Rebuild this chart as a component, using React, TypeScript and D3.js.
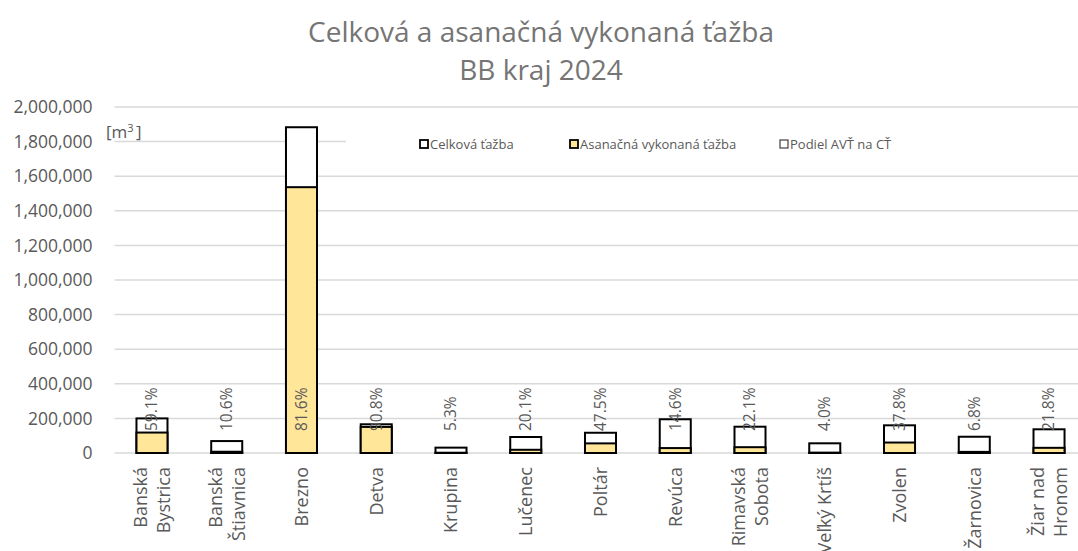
import React from 'react';
import { select, scaleBand, scaleLinear, axisLeft, format } from 'd3';

const categories = [
  'Banská Bystrica',
  'Banská Štiavnica',
  'Brezno',
  'Detva',
  'Krupina',
  'Lučenec',
  'Poltár',
  'Revúca',
  'Rimavská Sobota',
  'Veľký Krtíš',
  'Zvolen',
  'Žarnovica',
  'Žiar nad Hronom',
];
// label lines as Excel wraps them
const categoryLines = [
  ['Banská', 'Bystrica'],
  ['Banská', 'Štiavnica'],
  ['Brezno'],
  ['Detva'],
  ['Krupina'],
  ['Lučenec'],
  ['Poltár'],
  ['Revúca'],
  ['Rimavská', 'Sobota'],
  ['Veľký Krtíš'],
  ['Zvolen'],
  ['Žarnovica'],
  ['Žiar nad', 'Hronom'],
];
const celkovaTazba = [200000, 69000, 1883000, 166000, 31000, 92500, 117000, 195000, 152000, 56000, 160000, 94000, 137000];
const asanacnaTazba = [118200, 7300, 1536500, 150700, 1600, 18600, 55600, 28500, 33600, 2200, 60500, 6400, 29900];
const podielLabels = ['59.1%', '10.6%', '81.6%', '90.8%', '5.3%', '20.1%', '47.5%', '14.6%', '22.1%', '4.0%', '37.8%', '6.8%', '21.8%'];
const yTicks = [0, 200000, 400000, 600000, 800000, 1000000, 1200000, 1400000, 1600000, 1800000, 2000000];
const legendItems = ['Celková ťažba', 'Asanačná vykonaná ťažba', 'Podiel AVŤ na CŤ'];

const W = 1078;
const H = 551;
const FONT = '"Open Sans", sans-serif';
const YELLOW = '#FFE699';

function App() {
  const svgRef = React.useRef<SVGSVGElement>(null);

  React.useEffect(() => {
    const svg = select(svgRef.current).attr('width', W).attr('height', H);
    svg.selectAll('*').remove();

    const left = 114.6;
    const right = 1086.4; // plot runs a bit past the picture edge

    const xScale = scaleBand()
      .domain(categories)
      .range([left, right])
      .paddingInner(0.585)
      .paddingOuter(0.2925);

    const yScale = scaleLinear().domain([0, 2000000]).range([453, 107]);

    // title
    svg
      .append('text')
      .attr('x', 541)
      .attr('y', 42)
      .attr('text-anchor', 'middle')
      .style('font-size', '28px')
      .style('fill', '#757575')
      .text('Celková a asanačná vykonaná ťažba');
    svg
      .append('text')
      .attr('x', 541)
      .attr('y', 80)
      .attr('text-anchor', 'middle')
      .style('font-size', '28px')
      .style('fill', '#757575')
      .text('BB kraj 2024');

    // gridlines
    svg
      .append('g')
      .selectAll('line')
      .data(yTicks)
      .join('line')
      .attr('x1', left)
      .attr('x2', W)
      .attr('y1', (d) => yScale(d))
      .attr('y2', (d) => yScale(d))
      .attr('stroke', '#d9d9d9')
      .attr('stroke-width', 1.5);

    // y axis labels
    const yAxis = axisLeft(yScale).tickValues(yTicks).tickFormat(format(',')).tickSize(0).tickPadding(22);
    const yg = svg.append('g').attr('transform', `translate(${left},0)`).call(yAxis);
    yg.select('.domain').remove();
    yg.selectAll('text').style('font-size', '17.5px').style('font-family', FONT).style('fill', '#595959');

    // unit
    svg
      .append('text')
      .attr('x', 106)
      .attr('y', 138)
      .style('font-size', '17px')
      .style('fill', '#595959')
      .text('[m')
      .append('tspan')
      .attr('dy', -6)
      .style('font-size', '11px')
      .text('3');
    svg
      .append('text')
      .attr('x', 136)
      .attr('y', 138)
      .style('font-size', '17px')
      .style('fill', '#595959')
      .text(']');

    // legend box hides part of the 1,800,000 gridline
    svg.append('rect').attr('x', 346).attr('y', 126).attr('width', W - 346).attr('height', 34).attr('fill', '#fff');

    const legendX = [420, 570, 780];
    const legend = svg
      .append('g')
      .selectAll('g')
      .data(legendItems)
      .join('g')
      .attr('transform', (_, i) => `translate(${legendX[i]},144)`);
    legend
      .append('rect')
      .attr('x', 0)
      .attr('y', -4)
      .attr('width', 8)
      .attr('height', 8)
      .attr('fill', (_, i) => (i === 1 ? YELLOW : '#fff'))
      .attr('stroke', (_, i) => (i === 2 ? '#404040' : '#000'))
      .attr('stroke-width', (_, i) => (i === 2 ? 1.2 : 1.8));
    legend
      .append('text')
      .attr('x', 10)
      .attr('dy', '0.35em')
      .style('font-size', '13px')
      .style('fill', '#595959')
      .text((d) => d);

    // total bars
    svg
      .append('g')
      .selectAll('rect')
      .data(celkovaTazba)
      .join('rect')
      .attr('x', (_, i) => xScale(categories[i]))
      .attr('width', xScale.bandwidth())
      .attr('y', (d) => yScale(d))
      .attr('height', (d) => yScale(0) - yScale(d))
      .attr('fill', '#fff')
      .attr('stroke', '#000')
      .attr('stroke-width', 2);

    // sanitary felling bars, full overlap
    svg
      .append('g')
      .selectAll('rect')
      .data(asanacnaTazba)
      .join('rect')
      .attr('x', (_, i) => xScale(categories[i]))
      .attr('width', xScale.bandwidth())
      .attr('y', (d) => yScale(d))
      .attr('height', (d) => yScale(0) - yScale(d))
      .attr('fill', YELLOW)
      .attr('stroke', '#000')
      .attr('stroke-width', 2);

    // share labels
    svg
      .append('g')
      .selectAll('text')
      .data(podielLabels)
      .join('text')
      .attr('transform', (_, i) => `translate(${xScale(categories[i]) + xScale.bandwidth() / 2},${yScale(0) - 22}) rotate(-90)`)
      .attr('dy', '0.35em')
      .style('font-size', '15.5px')
      .style('fill', '#595959')
      .text((d) => d);

    // category labels
    const xl = svg
      .append('g')
      .selectAll('g')
      .data(categoryLines)
      .join('g')
      .attr('transform', (_, i) => `translate(${xScale(categories[i]) + xScale.bandwidth() / 2},467)`);
    xl.each(function (lines) {
      const g = select(this);
      lines.forEach((line, j) => {
        const off = (j - (lines.length - 1) / 2) * 23;
        g.append('text')
          .attr('transform', `translate(${off},0) rotate(-90)`)
          .attr('text-anchor', 'end')
          .attr('dy', '0.35em')
          .style('font-size', '18px')
          .style('fill', '#595959')
          .text(line);
      });
    });
  }, []);

  return (
    <div style={{ position: 'absolute', left: 0, top: 0, width: W, height: H, background: '#fff' }}>
      <svg ref={svgRef} style={{ display: 'block', fontFamily: FONT }}></svg>
    </div>
  );
}

export default App;
